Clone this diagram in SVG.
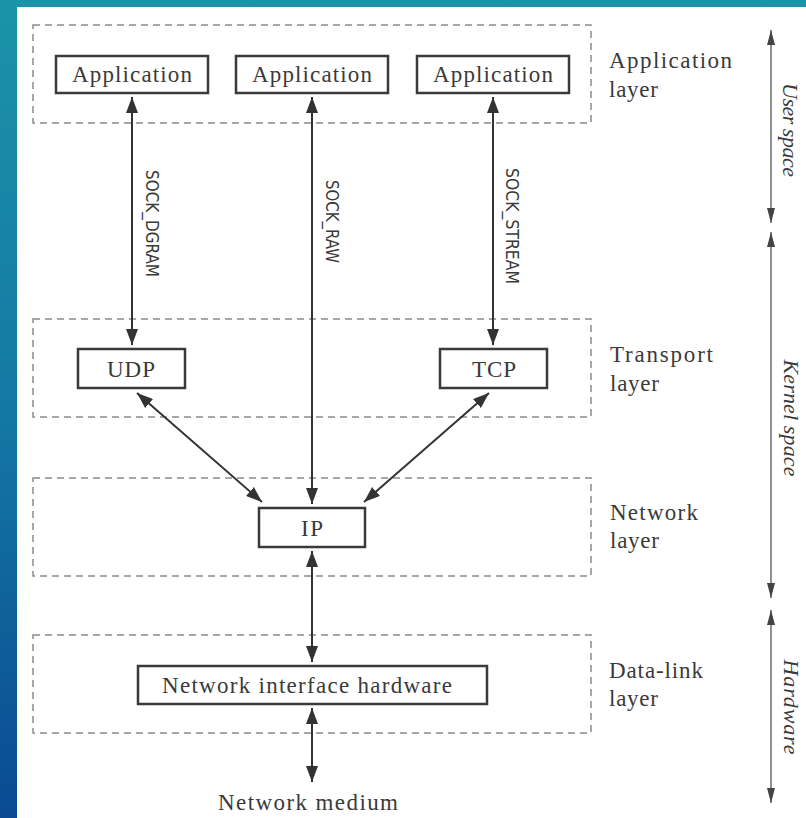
<svg xmlns="http://www.w3.org/2000/svg" width="806" height="818" viewBox="0 0 806 818">
  <defs>
    <linearGradient id="bg" x1="0" y1="0" x2="0" y2="1">
      <stop offset="0" stop-color="#1b93a8"/>
      <stop offset="0.5" stop-color="#1478a4"/>
      <stop offset="1" stop-color="#0a4a92"/>
    </linearGradient>
    <marker id="head" viewBox="0 0 16 12" refX="16" refY="6" markerWidth="16" markerHeight="12" markerUnits="userSpaceOnUse" orient="auto-start-reverse">
      <path d="M0,0 L16,6 L0,12 z" fill="#333"/>
    </marker>
    <marker id="headThin" viewBox="0 0 15 8" refX="15" refY="4" markerWidth="15" markerHeight="8" markerUnits="userSpaceOnUse" orient="auto-start-reverse">
      <path d="M0,0 L15,4 L0,8 z" fill="#444"/>
    </marker>
    <style>
      .layer { fill: none; stroke: #8a8a8a; stroke-width: 1.5; stroke-dasharray: 7 5; }
      .node rect { fill: #fff; stroke: #3a3a3a; stroke-width: 2.5; }
      .label { font-size: 23px; fill: #3a3a3a; }
      .mid { text-anchor: middle; }
      .side { font-size: 22px; font-style: italic; fill: #3a3a3a; text-anchor: middle; }
      .sock { font-size: 17px; fill: #3a3a3a; }
      .conn { stroke: #333; stroke-width: 2; fill: none; marker-start: url(#head); marker-end: url(#head); }
      .span { stroke: #555; stroke-width: 1.3; fill: none; marker-start: url(#headThin); marker-end: url(#headThin); }
    </style>
  </defs>

  <!-- page background and white sheet -->
  <rect x="0" y="0" width="806" height="818" fill="url(#bg)"/>
  <rect x="17" y="7" width="789" height="811" fill="#ffffff"/>

  <!-- layer frames -->
  <g id="layers">
    <rect class="layer" x="33" y="25" width="558" height="98"/>
    <rect class="layer" x="33" y="319" width="558" height="98"/>
    <rect class="layer" x="33" y="478" width="558" height="98"/>
    <rect class="layer" x="33" y="635" width="558" height="98"/>
  </g>

  <!-- layer names -->
  <g id="layer-labels">
    <text class="label" font-family="Liberation Serif" x="609" y="68" textLength="123" lengthAdjust="spacing">Application</text>
    <text class="label" font-family="Liberation Serif" x="609" y="97" textLength="49" lengthAdjust="spacing">layer</text>
    <text class="label" font-family="Liberation Serif" x="610" y="362" textLength="103" lengthAdjust="spacing">Transport</text>
    <text class="label" font-family="Liberation Serif" x="610" y="391" textLength="49" lengthAdjust="spacing">layer</text>
    <text class="label" font-family="Liberation Serif" x="610" y="520" textLength="88" lengthAdjust="spacing">Network</text>
    <text class="label" font-family="Liberation Serif" x="610" y="548" textLength="49" lengthAdjust="spacing">layer</text>
    <text class="label" font-family="Liberation Serif" x="609" y="678" textLength="94" lengthAdjust="spacing">Data-link</text>
    <text class="label" font-family="Liberation Serif" x="609" y="706" textLength="49" lengthAdjust="spacing">layer</text>
  </g>

  <!-- address-space spans -->
  <g id="spaces">
    <line class="span" x1="771" y1="30" x2="771" y2="223"/>
    <line class="span" x1="771" y1="232" x2="771" y2="598"/>
    <line class="span" x1="771" y1="610" x2="771" y2="803"/>
    <text class="side" font-family="Liberation Serif" transform="translate(783,130) rotate(90)" textLength="94" lengthAdjust="spacing">User space</text>
    <text class="side" font-family="Liberation Serif" transform="translate(784,418) rotate(90)" textLength="117" lengthAdjust="spacing">Kernel space</text>
    <text class="side" font-family="Liberation Serif" transform="translate(784,707) rotate(90)" textLength="95" lengthAdjust="spacing">Hardware</text>
  </g>

  <!-- nodes -->
  <g id="app1" class="node">
    <rect x="56" y="56" width="152" height="37"/>
    <text class="label mid" font-family="Liberation Serif" x="132" y="82" textLength="120" lengthAdjust="spacing">Application</text>
  </g>
  <g id="app2" class="node">
    <rect x="236" y="56" width="152" height="37"/>
    <text class="label mid" font-family="Liberation Serif" x="312" y="82" textLength="120" lengthAdjust="spacing">Application</text>
  </g>
  <g id="app3" class="node">
    <rect x="417" y="56" width="152" height="37"/>
    <text class="label mid" font-family="Liberation Serif" x="493" y="82" textLength="120" lengthAdjust="spacing">Application</text>
  </g>
  <g id="udp" class="node">
    <rect x="78" y="349" width="107" height="39"/>
    <text class="label mid" font-family="Liberation Serif" x="131" y="377" textLength="48" lengthAdjust="spacing">UDP</text>
  </g>
  <g id="tcp" class="node">
    <rect x="440" y="349" width="107" height="39"/>
    <text class="label mid" font-family="Liberation Serif" x="494" y="377" textLength="44" lengthAdjust="spacing">TCP</text>
  </g>
  <g id="ip" class="node">
    <rect x="259" y="508" width="106" height="39"/>
    <text class="label mid" font-family="Liberation Serif" x="312" y="536" textLength="22" lengthAdjust="spacing">IP</text>
  </g>
  <g id="nic" class="node">
    <rect x="138" y="666" width="349" height="38"/>
    <text class="label mid" font-family="Liberation Serif" x="307" y="693" textLength="290" lengthAdjust="spacing">Network interface hardware</text>
  </g>
  <g id="medium">
    <text class="label mid" font-family="Liberation Serif" x="308" y="810" textLength="180" lengthAdjust="spacing">Network medium</text>
  </g>

  <!-- connectors -->
  <g id="connectors">
    <line class="conn" x1="132" y1="97" x2="132" y2="345"/>
    <line class="conn" x1="312" y1="97" x2="312" y2="504"/>
    <line class="conn" x1="493" y1="97" x2="493" y2="345"/>
    <line class="conn" x1="137" y1="393" x2="262" y2="502"/>
    <line class="conn" x1="489" y1="393" x2="364" y2="502"/>
    <line class="conn" x1="312" y1="551" x2="312" y2="662"/>
    <line class="conn" x1="312" y1="708" x2="312" y2="782"/>
    <text class="sock" font-family="DejaVu Sans Condensed" transform="translate(146,170) rotate(90)" textLength="107" lengthAdjust="spacingAndGlyphs">SOCK_DGRAM</text>
    <text class="sock" font-family="DejaVu Sans Condensed" transform="translate(326,180) rotate(90)" textLength="83" lengthAdjust="spacingAndGlyphs">SOCK_RAW</text>
    <text class="sock" font-family="DejaVu Sans Condensed" transform="translate(506,168) rotate(90)" textLength="116" lengthAdjust="spacingAndGlyphs">SOCK_STREAM</text>
  </g>
</svg>
